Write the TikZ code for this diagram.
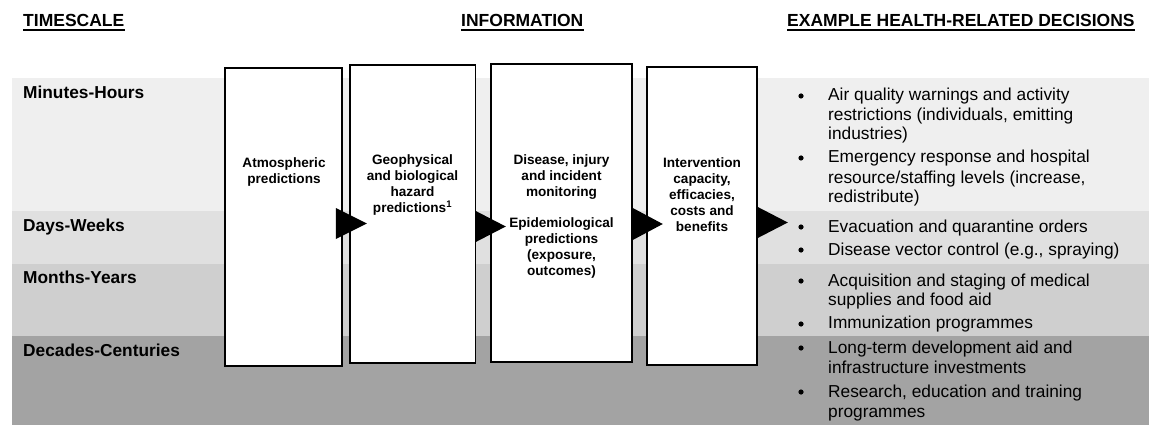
\documentclass[tikz,border=0pt]{standalone}
\usepackage{fontspec}
\setmainfont{Liberation Sans}
\usetikzlibrary{calc}
\definecolor{bandA}{RGB}{239,239,239}
\definecolor{bandB}{RGB}{224,224,224}
\definecolor{bandC}{RGB}{207,207,207}
\definecolor{bandD}{RGB}{163,163,163}
\begin{document}
\begin{tikzpicture}[x=1pt,y=-1pt,
  hdr/.style={font=\fontsize{17.5}{20}\selectfont\bfseries, inner sep=0, anchor=base west},
  rowlbl/.style={font=\fontsize{17.3}{20}\selectfont\bfseries, inner sep=0, anchor=base west},
  infobox/.style={draw=black, line width=1.6pt, fill=white, inner sep=0},
  boxtxt/.style={font=\fontsize{13.6}{16}\selectfont\bfseries, align=center, inner sep=0},
  itemtxt/.style={font=\fontsize{17.3}{20}\selectfont, inner sep=0, anchor=base west},
  ulinestyle/.style={line width=1.5pt},
  tri/.style={fill=black}]
\useasboundingbox (0,0) rectangle (1149,425);
% bands
\fill[bandA] (12,78) rectangle (1149,211);
\fill[bandB] (12,211) rectangle (1149,264);
\fill[bandC] (12,264) rectangle (1149,336);
\fill[bandD] (12,336) rectangle (1149,425);
% headers
\node[hdr] (h1) at (23,27) {TIMESCALE};
\node[hdr] (h2) at (461,27) {INFORMATION};
\node[hdr] (h3) at (787,27) {EXAMPLE HEALTH-RELATED DECISIONS};
\foreach \h in {h1,h2,h3}{
  \draw[ulinestyle] ($(\h.base west)+(0,3)$) -- ($(\h.base east)+(0,3)$);
}
% row labels
\node[rowlbl] (r1) at (23,99) {Minutes-Hours};
\node[rowlbl] (r2) at (23,231) {Days-Weeks};
\node[rowlbl] (r3) at (23,283) {Months-Years};
\node[rowlbl] (r4) at (23,356) {Decades-Centuries};
% boxes
\node[infobox, minimum width=117, minimum height=298] (b1) at (283.5,217) {};
\node[infobox, minimum width=125.5, minimum height=298] (b2) at (412.75,214) {};
\node[infobox, minimum width=141, minimum height=298] (b3) at (561.5,213) {};
\node[infobox, minimum width=110, minimum height=298] (b4) at (702,216) {};
% box texts
\node[boxtxt] (t1) at (284,171.5) {Atmospheric\\predictions};
\node[boxtxt] (t2) at (412.5,185) {Geophysical\\and biological\\hazard\\predictions\textsuperscript{1}};
\node[boxtxt] (t3a) at (561.5,177) {Disease, injury\\and incident\\monitoring};
\node[boxtxt] (t3b) at (561.5,248) {Epidemiological\\predictions\\(exposure,\\outcomes)};
\node[boxtxt] (t4) at (702,195) {Intervention\\capacity,\\efficacies,\\costs and\\benefits};
% arrows (triangles)
\path (b1.east) ++(-7,6.5) coordinate (a1);
\path (b2.east) ++(-0.5,12.5) coordinate (a2);
\path (b3.east) ++(0,11) coordinate (a3);
\path (b4.east) ++(0,6.5) coordinate (a4);
\fill[tri] (a1) ++(0,-15.5) -- ++(31,15.5) -- ++(-31,15.5) -- cycle;
\fill[tri] (a2) ++(0,-15.5) -- ++(30,15.5) -- ++(-30,15.5) -- cycle;
\fill[tri] (a3) ++(0,-16) -- ++(30,16) -- ++(-30,16) -- cycle;
\fill[tri] (a4) ++(0,-15.5) -- ++(30,15.5) -- ++(-30,15.5) -- cycle;
% bullets
\foreach \by in {96,158,227,250,281,324,348,392}{
  \fill (801,\by) circle (2.6);
}
% list lines
\node[itemtxt] (l1) at (828,101) {Air quality warnings and activity};
\node[itemtxt] (l2) at (828,121) {restrictions (individuals, emitting};
\node[itemtxt] (l3) at (828,140) {industries)};
\node[itemtxt] (l4) at (828,163) {Emergency response and hospital};
\node[itemtxt] (l5) at (828,183) {resource/staffing levels (increase,};
\node[itemtxt] (l6) at (828,202) {redistribute)};
\node[itemtxt] (l7) at (828,232) {Evacuation and quarantine orders};
\node[itemtxt] (l8) at (828,255) {Disease vector control (e.g., spraying)};
\node[itemtxt] (l9) at (828,286) {Acquisition and staging of medical};
\node[itemtxt] (l10) at (828,305) {supplies and food aid};
\node[itemtxt] (l11) at (828,328) {Immunization programmes};
\node[itemtxt] (l12) at (828,353) {Long-term development aid and};
\node[itemtxt] (l13) at (828,373) {infrastructure investments};
\node[itemtxt] (l14) at (828,397) {Research, education and training};
\node[itemtxt] (l15) at (828,417) {programmes};
\end{tikzpicture}
\end{document}
